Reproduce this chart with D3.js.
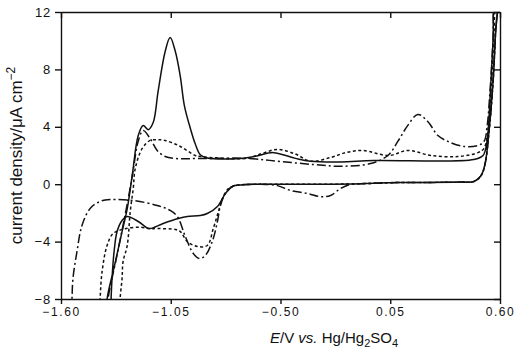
<!DOCTYPE html>
<html>
<head>
<meta charset="utf-8">
<script src="https://cdn.jsdelivr.net/npm/d3@7"></script>
<style>
  body { margin: 0; background: #fff; }
  svg { display: block; }
  .axis path, .axis line { stroke: #111; stroke-width: 1.4; }
  .axis text { font-family: "Liberation Sans", Arial, sans-serif; fill: #111; }
  .label { font-family: "Liberation Sans", Arial, sans-serif; fill: #111; }
</style>
</head>
<body>
<div id="chart"></div>
<script>
// axis ticks
const xTicks = [-1.6, -1.05, -0.5, 0.05, 0.6];
const xTickLabels = ["\u22121.60", "\u22121.05", "\u22120.50", "0.05", "0.60"];
const yTicks = [-8, -4, 0, 4, 8, 12];

// [E (V), current density (uA cm-2)]

// return sweep near the anodic limit, shared by all three traces
const returnRight = [
  [0.59, 13.5], [0.578, 10.6], [0.565, 7.1], [0.545, 3.7], [0.525, 1.4],
  [0.505, 0.6], [0.469, 0.19], [0.4, 0.15], [0.2, 0.12], [0.088, 0.12],
  [0.0, 0.08], [-0.1, 0.03]
];

// solid trace
const solidAnodic = [
  [-1.371, -9], [-1.369, -8], [-1.329, -5.5], [-1.294, -3.3], [-1.268, -1.7],
  [-1.243, 0.61], [-1.213, 3.39], [-1.188, 4.09], [-1.163, 3.8], [-1.138, 4.3],
  [-1.113, 6.5], [-1.078, 9.25], [-1.053, 10.22], [-1.027, 9.25], [-1.002, 7.5],
  [-0.982, 5.5], [-0.952, 3.9], [-0.927, 2.8], [-0.902, 2.05], [-0.872, 1.85],
  [-0.701, 1.79], [-0.626, 1.95], [-0.535, 2.2], [-0.425, 1.8], [-0.349, 1.6],
  [-0.199, 1.55], [-0.033, 1.65], [0.469, 1.72], [0.515, 2.0], [0.535, 3.0],
  [0.55, 6], [0.565, 10], [0.577, 13.5]
];
const solidCathodic = [
  [-0.25, 0.0], [-0.5, 0.0], [-0.7, -0.05], [-0.741, -0.16], [-0.776, -0.65],
  [-0.816, -1.55], [-0.867, -2.04], [-0.902, -2.18], [-0.967, -2.25],
  [-1.012, -2.39], [-1.088, -2.74], [-1.153, -3.09], [-1.168, -3.05],
  [-1.213, -2.6], [-1.268, -2.25], [-1.294, -2.53], [-1.319, -3.3],
  [-1.334, -4.7], [-1.344, -6.5], [-1.349, -8], [-1.351, -9]
];

// dotted trace
const dottedAnodic = [
  [-1.306, -9], [-1.304, -8], [-1.294, -6.57], [-1.289, -5.4], [-1.268, -4.27],
  [-1.253, -1.9], [-1.238, -0.3], [-1.228, 1.09], [-1.193, 2.49], [-1.153, 3.05],
  [-1.113, 3.1], [-1.078, 3.05], [-1.002, 2.63], [-0.927, 2.0], [-0.902, 1.93],
  [-0.666, 1.8], [-0.6, 2.1], [-0.515, 2.42], [-0.425, 2.1], [-0.349, 1.6],
  [-0.249, 1.86], [-0.173, 2.2], [-0.088, 2.35], [0.043, 2.0], [0.138, 2.35],
  [0.254, 2.0], [0.389, 1.93], [0.489, 2.2], [0.52, 2.5], [0.54, 3.8],
  [0.555, 6.5], [0.57, 10.5], [0.583, 13.5]
];
const dottedCathodic = [
  [-0.25, 0.0], [-0.5, 0.0], [-0.7, -0.05], [-0.741, -0.16], [-0.761, -0.3],
  [-0.791, -1.0], [-0.811, -1.9], [-0.837, -3.1], [-0.867, -4.27],
  [-0.917, -4.34], [-0.967, -4.0], [-1.002, -3.3], [-1.027, -3.16],
  [-1.118, -3.09], [-1.153, -3.1], [-1.203, -3.0], [-1.279, -3.1],
  [-1.339, -3.44], [-1.369, -4.27], [-1.394, -6.08], [-1.404, -8], [-1.407, -9]
];

// dash-dot trace
const dashDotAnodic = [
  [-1.366, -9], [-1.364, -8], [-1.32, -5.0], [-1.263, -1.0], [-1.238, 1.0],
  [-1.213, 3.0], [-1.188, 3.74], [-1.153, 3.18], [-1.118, 2.35], [-1.078, 1.93],
  [-1.027, 1.79], [-0.902, 1.79], [-0.666, 1.8], [-0.5, 1.58], [-0.334, 1.37],
  [-0.199, 1.25], [-0.048, 1.44], [0.038, 2.0], [0.088, 2.98], [0.138, 4.1],
  [0.188, 4.86], [0.238, 4.37], [0.289, 3.39], [0.339, 2.98], [0.419, 2.63],
  [0.489, 2.7], [0.52, 2.98], [0.535, 4.0], [0.55, 6.5], [0.565, 10], [0.577, 13.5]
];
const dashDotCathodic = [
  [-0.148, 0.0], [-0.199, -0.3], [-0.249, -0.79], [-0.299, -0.87],
  [-0.364, -0.65], [-0.45, -0.44], [-0.515, -0.1], [-0.6, 0.0], [-0.701, -0.05],
  [-0.741, -0.16], [-0.776, -0.65], [-0.801, -1.48], [-0.816, -2.6],
  [-0.842, -4.0], [-0.877, -4.97], [-0.907, -5.18], [-0.937, -4.83],
  [-0.977, -3.64], [-1.017, -2.25], [-1.053, -1.83], [-1.118, -1.48],
  [-1.238, -1.14], [-1.354, -1.07], [-1.404, -1.2], [-1.454, -1.69],
  [-1.495, -2.88], [-1.52, -4.7], [-1.54, -6.57], [-1.545, -8], [-1.548, -9]
];

document.addEventListener("DOMContentLoaded", function () {
  const totalW = 522;
  const totalH = 351;
  const margin = { top: 12, right: 22, bottom: 52, left: 61 };
  const width = totalW - margin.left - margin.right;
  const height = totalH - margin.top - margin.bottom;

  const svg = d3
    .select("#chart")
    .append("svg")
    .attr("width", totalW)
    .attr("height", totalH);

  const g = svg
    .append("g")
    .attr("transform", `translate(${margin.left},${margin.top})`);

  const x = d3.scaleLinear().domain([-1.6, 0.6]).range([0, width]);
  const y = d3.scaleLinear().domain([-8, 12]).range([height, 0]);

  // clip the traces to the frame
  svg
    .append("defs")
    .append("clipPath")
    .attr("id", "plot-clip")
    .append("rect")
    .attr("width", width)
    .attr("height", height);

  // bottom axis, ticks outward
  g.append("g")
    .attr("class", "axis")
    .attr("transform", `translate(0,${height})`)
    .call(
      d3
        .axisBottom(x)
        .tickValues(xTicks)
        .tickFormat((d, i) => xTickLabels[i])
        .tickSize(5)
        .tickSizeOuter(0)
        .tickPadding(3)
    )
    .selectAll("text")
    .style("font-size", "12px")
    .style("letter-spacing", "1.6px");

  // left axis, ticks outward
  g.append("g")
    .attr("class", "axis")
    .call(
      d3
        .axisLeft(y)
        .tickValues(yTicks)
        .tickFormat((d) => (d < 0 ? "\u2212" + Math.abs(d) : d))
        .tickSize(6)
        .tickSizeOuter(0)
        .tickPadding(4)
    )
    .selectAll("text")
    .style("font-size", "13px")
    .style("letter-spacing", "0.8px");

  // top and right axes, ticks inward, no labels
  g.append("g")
    .attr("class", "axis")
    .call(
      d3.axisTop(x).tickValues(xTicks).tickSize(-6).tickSizeOuter(0).tickFormat("")
    );

  g.append("g")
    .attr("class", "axis")
    .attr("transform", `translate(${width},0)`)
    .call(
      d3.axisRight(y).tickValues(yTicks).tickSize(-6).tickSizeOuter(0).tickFormat("")
    );

  // the three voltammograms
  const line = d3
    .line()
    .x((d) => x(d[0]))
    .y((d) => y(d[1]))
    .curve(d3.curveCatmullRom.alpha(0.5));

  const traces = [
    { pts: solidAnodic.concat(returnRight, solidCathodic), dash: null },
    { pts: dottedAnodic.concat(returnRight, dottedCathodic), dash: "3,2.5" },
    { pts: dashDotAnodic.concat(returnRight, dashDotCathodic), dash: "9,3,2,3" },
  ];

  g.append("g")
    .attr("clip-path", "url(#plot-clip)")
    .selectAll("path")
    .data(traces)
    .enter()
    .append("path")
    .attr("d", (d) => line(d.pts))
    .attr("fill", "none")
    .attr("stroke", "#111")
    .attr("stroke-width", 1.5)
    .attr("stroke-dasharray", (d) => d.dash);

  // x axis title
  const xt = svg
    .append("text")
    .attr("class", "label")
    .attr("x", 270)
    .attr("y", 343)
    .style("font-size", "15px");
  xt.append("tspan").style("font-style", "italic").text("E");
  xt.append("tspan").text("/V ");
  xt.append("tspan").style("font-style", "italic").text("vs.");
  xt.append("tspan").text(" Hg/Hg");
  xt.append("tspan").attr("dy", 4).style("font-size", "11px").text("2");
  xt.append("tspan").attr("dy", -4).text("SO");
  xt.append("tspan").attr("dy", 4).style("font-size", "11px").text("4");

  // y axis title
  const yt = svg
    .append("text")
    .attr("class", "label")
    .attr("transform", `translate(22,${margin.top + height / 2}) rotate(-90)`)
    .attr("text-anchor", "middle")
    .style("font-size", "17px");
  yt.append("tspan").text("current density/\u03bcA cm");
  yt.append("tspan").attr("dy", -7).style("font-size", "12px").text("\u22122");
});
</script>
</body>
</html>
